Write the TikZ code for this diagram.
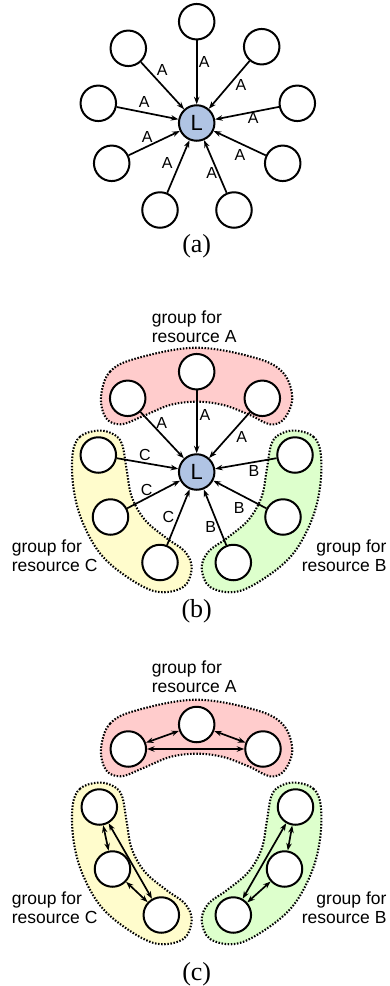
\documentclass[tikz,border=0pt]{standalone}
\usepackage{fontspec}
\setmainfont{Liberation Sans}
\newfontfamily\capfont{Liberation Serif}
\usetikzlibrary{arrows.meta}
\definecolor{lblue}{RGB}{176,196,228}
\definecolor{gred}{RGB}{255,204,204}
\definecolor{gyel}{RGB}{255,252,204}
\definecolor{ggrn}{RGB}{221,255,204}
\tikzset{
  blob/.style={line width=2.1pt,dash pattern=on 1.5pt off 1.6pt},
  redblob/.pic={\draw[blob,fill=gred] plot[smooth cycle,tension=0.6] coordinates {
    (101,396.7) (110,371.7) (136.7,358.3) (196.7,347.7) (256.7,358.3) (283.3,373)
    (292.3,398) (284,419) (270,424.3) (250,415) (223.3,405) (196.7,401.7)
    (170,405) (143.3,416) (121,424.3) (106,418)};},
  yelblob/.pic={\draw[blob,fill=gyel] plot[smooth cycle,tension=0.6] coordinates {
    (96.7,430.7) (80,436.7) (72.7,453.3) (73.3,486.7) (81.7,520) (100,553.3)
    (126.7,576.7) (156.7,591.7) (183.3,587) (191.7,568.3) (185,551.7) (166.7,538.3)
    (145,520) (131.7,496.7) (126.7,470) (121.7,443.3) (111.7,433.3)};},
  grnblob/.pic={\draw[blob,fill=ggrn] plot[smooth cycle,tension=0.6] coordinates {
    (296.7,430.7) (313.4,436.7) (320.7,453.3) (320.1,486.7) (311.7,520) (293.4,553.3)
    (266.7,576.7) (236.7,591.7) (210.1,587) (201.7,568.3) (208.4,551.7) (226.7,538.3)
    (248.4,520) (261.7,496.7) (266.7,470) (271.7,443.3) (281.7,433.3)};},
}
\begin{document}
\begin{tikzpicture}[x=1pt,y=-1pt,
  nd/.style={circle,draw,line width=2pt,fill=white,minimum size=35.5pt,inner sep=0pt},
  lead/.style={nd,fill=lblue,font=\fontsize{22}{22}\selectfont},
  arr/.style={line width=1.7pt,-{Stealth[length=7.5pt,width=5.5pt]}},
  darr/.style={line width=1.7pt,{Stealth[length=7.5pt,width=5.5pt]}-{Stealth[length=7.5pt,width=5.5pt]}},
  elab/.style={font=\fontsize{16}{16}\selectfont,inner sep=0pt},
  glab/.style={font=\fontsize{17.5}{19}\selectfont,inner sep=0pt},
  captxt/.style={font=\capfont\fontsize{26}{26}\selectfont,inner sep=0pt},
]
\useasboundingbox (0,0) rectangle (390,986);

% ---------------- (a) ----------------
\node[lead] (aL) at (196.7,123) {L};
\node[nd] (a1) at (196.7,21.7) {};
\node[nd] (a2) at (128.3,48.3) {};
\node[nd] (a3) at (261.7,46.7) {};
\node[nd] (a4) at (98.3,103.3) {};
\node[nd] (a5) at (297.3,103.3) {};
\node[nd] (a6) at (111.7,163.3) {};
\node[nd] (a7) at (282.7,163.3) {};
\node[nd] (a8) at (160,210) {};
\node[nd] (a9) at (234,210) {};
\foreach \i in {1,...,9} {\draw[arr] (a\i) -- (aL);}
\node[elab] (la1) at (204.3,61.7) {A};
\node[elab] (la2) at (162.3,70) {A};
\node[elab] (la3) at (241,85) {A};
\node[elab] (la4) at (144.3,101.7) {A};
\node[elab] (la5) at (253.3,118.3) {A};
\node[elab] (la6) at (147.3,136.7) {A};
\node[elab] (la7) at (240,155) {A};
\node[elab] (la8) at (167.3,163.3) {A};
\node[elab] (la9) at (211.7,173.3) {A};
\node[captxt] (capa) at (196.7,246.7) {(a)};

% ---------------- (b) ----------------
\pic at (0,0) {redblob};
\pic at (0,0) {yelblob};
\pic at (0,0) {grnblob};
\node[lead] (bL) at (196.7,472) {L};
\node[nd] (bAt) at (196.7,371.7) {};
\node[nd] (bAl) at (127.7,398.3) {};
\node[nd] (bAr) at (262.3,398.3) {};
\node[nd] (bCt) at (98.3,455) {};
\node[nd] (bCm) at (110.5,517) {};
\node[nd] (bCb) at (160,562.5) {};
\node[nd] (bBt) at (295,455) {};
\node[nd] (bBm) at (283,517) {};
\node[nd] (bBb) at (233.3,562.5) {};
\foreach \n in {At,Al,Ar,Ct,Cm,Cb,Bt,Bm,Bb} {\draw[arr] (b\n) -- (bL);}
\node[elab] (lbAt) at (205,415) {A};
\node[elab] (lbAl) at (161.7,423.3) {A};
\node[elab] (lbAr) at (241.7,436.7) {A};
\node[elab] (lbCt) at (145,455) {C};
\node[elab] (lbCm) at (146.7,490) {C};
\node[elab] (lbCb) at (168.3,516.7) {C};
\node[elab] (lbBt) at (254,470.7) {B};
\node[elab] (lbBm) at (239.3,507.7) {B};
\node[elab] (lbBb) at (210.7,526.7) {B};
\node[glab,anchor=base west,align=left] (gbA) at (151.7,342.5) {group for\\resource A};
\node[glab,anchor=base west,align=left] (gbC) at (11.7,571) {group for\\resource C};
\node[glab,anchor=base east,align=right] (gbB) at (386.7,571) {group for\\resource B};
\node[captxt] (capb) at (196.7,611) {(b)};

% ---------------- (c) ----------------
\pic at (0,352) {redblob};
\pic at (0,352) {yelblob};
\pic at (0,352) {grnblob};
\node[nd] (cAt) at (196.7,724.5) {};
\node[nd] (cAl) at (128.3,749) {};
\node[nd] (cAr) at (263,749) {};
\node[nd] (cCt) at (99.3,807) {};
\node[nd] (cCm) at (112.5,869) {};
\node[nd] (cCb) at (161.3,915) {};
\node[nd] (cBt) at (295.5,807) {};
\node[nd] (cBm) at (284.5,869) {};
\node[nd] (cBb) at (233.3,915) {};
\draw[darr] (cAl) -- (cAt);
\draw[darr] (cAt) -- (cAr);
\draw[darr] (cAl) -- (cAr);
\draw[darr] (cCt) -- (cCm);
\draw[darr] (cCm) -- (cCb);
\draw[darr] (cCt) -- (cCb);
\draw[darr] (cBt) -- (cBm);
\draw[darr] (cBm) -- (cBb);
\draw[darr] (cBt) -- (cBb);
\node[glab,anchor=base west,align=left] (gcA) at (151.7,692) {group for\\resource A};
\node[glab,anchor=base west,align=left] (gcC) at (11.7,923) {group for\\resource C};
\node[glab,anchor=base east,align=right] (gcB) at (386.7,923) {group for\\resource B};
\node[captxt] (capc) at (196.7,974) {(c)};
\end{tikzpicture}
\end{document}
